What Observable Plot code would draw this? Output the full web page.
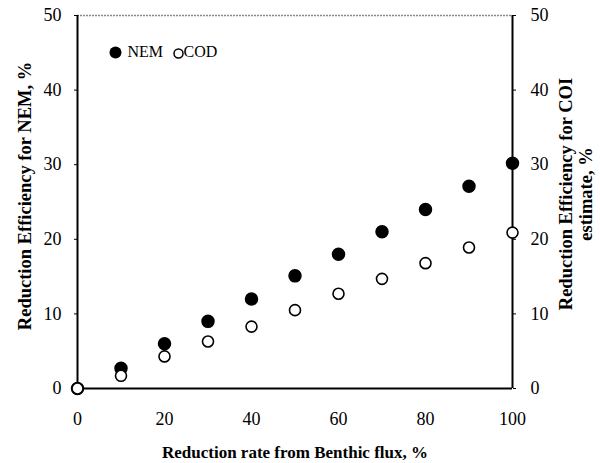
<!DOCTYPE html>
<html><head><meta charset="utf-8">
<script src="https://cdn.jsdelivr.net/npm/d3@7"></script>
<script src="https://cdn.jsdelivr.net/npm/@observablehq/plot@0.6"></script>
<style>body{margin:0;background:#fff}</style>
</head><body><div id="chart"></div>
<script>
const reductionRate = [0, 10, 20, 30, 40, 50, 60, 70, 80, 90, 100];
const nemEfficiency = [0, 2.7, 6.0, 9.0, 12.0, 15.1, 18.0, 21.0, 24.0, 27.1, 30.2];
const codEfficiency = [0, 1.7, 4.3, 6.3, 8.3, 10.5, 12.7, 14.7, 16.8, 18.9, 20.9];
const xTicks = [0, 20, 40, 60, 80, 100];
const yTicks = [0, 10, 20, 30, 40, 50];
const xLabel = "Reduction rate from Benthic flux, %";
const yLabelLeft = "Reduction Efficiency for NEM, %";
const yLabelRight = "Reduction Efficiency for COI\nestimate, %";
const legendItems = ["NEM", "COD"];

const nem = reductionRate.map((x, i) => ({x, y: nemEfficiency[i]}));
const cod = reductionRate.map((x, i) => ({x, y: codEfficiency[i]}));
const font = "'Liberation Serif', 'Times New Roman', serif";

const chart = Plot.plot({
  width: 600, height: 463,
  marginLeft: 77, marginRight: 88, marginTop: 15, marginBottom: 75,
  style: {fontFamily: font, fontSize: "18px", color: "#000", background: "#fff"},
  x: {domain: [0, 100]},
  y: {domain: [0, 50]},
  marks: [
    Plot.ruleY([50], {stroke: "#888", strokeWidth: 1.5, strokeDasharray: "2,1"}),
    Plot.ruleY([0], {stroke: "#000", strokeWidth: 2}),
    Plot.ruleX([0], {stroke: "#000", strokeWidth: 2}),
    Plot.ruleX([100], {stroke: "#000", strokeWidth: 2}),
    Plot.axisX(xTicks, {anchor: "bottom", tickSize: 0, tickPadding: 24, label: null, fontSize: 18}),
    Plot.axisY(yTicks, {anchor: "left", tickSize: 3, tickPadding: 13, label: null, fontSize: 18}),
    Plot.axisY(yTicks, {anchor: "right", tickSize: 3, tickPadding: 15, label: null, fontSize: 18}),
    Plot.dot(nem, {x: "x", y: "y", r: 6, fill: "#000", stroke: "#000"}),
    Plot.dot(cod, {x: "x", y: "y", r: 5.5, fill: "#fff", stroke: "#000", strokeWidth: 1.6}),
    Plot.text([xLabel], {frameAnchor: "bottom", dy: 64, lineAnchor: "middle", fontWeight: "bold", fontSize: 17, text: d => d}),
    Plot.text([yLabelLeft], {frameAnchor: "left", dx: -52, dy: -6, rotate: -90, textAnchor: "middle", lineAnchor: "middle", fontWeight: "bold", fontSize: 18.5, text: d => d}),
    Plot.text([yLabelRight], {frameAnchor: "right", dx: 63, dy: -8, rotate: -90, textAnchor: "middle", lineAnchor: "middle", fontWeight: "bold", fontSize: 18.5, lineHeight: 1.1, text: d => d}),
    Plot.dot([legendItems[0]], {frameAnchor: "top-left", dx: 38, dy: 37, r: 6, fill: "#000"}),
    Plot.text([legendItems[0]], {frameAnchor: "top-left", dx: 50, dy: 36, textAnchor: "start", lineAnchor: "middle", fontSize: 16, text: d => d}),
    Plot.dot([legendItems[1]], {frameAnchor: "top-left", dx: 101, dy: 38, r: 4.5, fill: "#fff", stroke: "#000", strokeWidth: 1.5}),
    Plot.text([legendItems[1]], {frameAnchor: "top-left", dx: 106, dy: 36, textAnchor: "start", lineAnchor: "middle", fontSize: 16, text: d => d})
  ]
});
document.getElementById("chart").append(chart);
</script>
</body></html>
